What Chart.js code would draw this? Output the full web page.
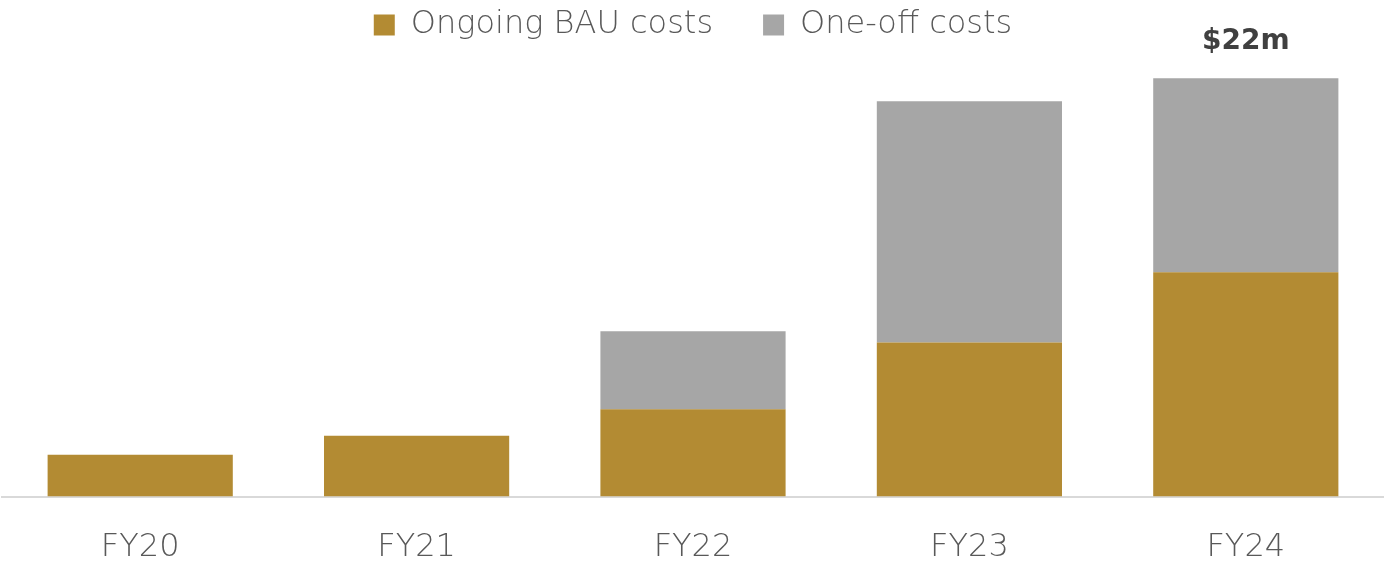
<!DOCTYPE html>
<html>
<head>
<meta charset="utf-8">
<script src="https://cdn.jsdelivr.net/npm/chart.js@4/dist/chart.umd.min.js"></script>
<style>
  html, body { margin: 0; padding: 0; background: #fff; }
  #wrap { width: 1384px; height: 564px; }
</style>
</head>
<body>
<div id="wrap"><canvas id="costChart"></canvas></div>
<script>
// Chart data ($m)
const years = ['FY20', 'FY21', 'FY22', 'FY23', 'FY24'];
const ongoingBau = [2.2, 3.2, 4.6, 8.1, 11.8];
const oneOff = [0, 0, 4.1, 12.7, 10.2];
const topLabels = ['', '', '', '', '$22m'];

const GOLD = '#b38b33';
const GREY = '#a6a6a6';
const TEXT = '#595959';
const FONT = '"DejaVu Sans", sans-serif';

// Draw the total label above a stacked column
const totalLabelPlugin = {
  id: 'totalLabel',
  afterDatasetsDraw(chart) {
    const ctx = chart.ctx;
    const xScale = chart.scales.x;
    const yScale = chart.scales.y;
    ctx.save();
    ctx.font = 'bold 28px ' + FONT;
    ctx.fillStyle = '#404040';
    ctx.textAlign = 'center';
    ctx.textBaseline = 'middle';
    topLabels.forEach((lbl, i) => {
      if (!lbl) return;
      const total = ongoingBau[i] + oneOff[i];
      ctx.fillText(lbl, xScale.getPixelForValue(i), yScale.getPixelForValue(total) - 37);
    });
    ctx.restore();
  }
};

const ctx = document.getElementById('costChart').getContext('2d');
const costChart = new Chart(ctx, {
  type: 'bar',
  data: {
    labels: years,
    datasets: [
      { label: 'Ongoing BAU costs', data: ongoingBau, backgroundColor: GOLD },
      { label: 'One-off costs', data: oneOff, backgroundColor: GREY }
    ]
  },
  options: {
    responsive: true,
    maintainAspectRatio: false,
    animation: false,
    layout: { padding: { left: 2, right: 0, top: -41, bottom: -35 } },
    datasets: { bar: { categoryPercentage: 1, barPercentage: 0.67 } },
    plugins: {
      legend: {
        position: 'top',
        labels: {
          boxWidth: 21,
          boxHeight: 21,
          padding: 50,
          color: TEXT,
          font: { family: FONT, size: 32, weight: 200 }
        }
      },
      tooltip: { enabled: false }
    },
    scales: {
      x: {
        stacked: true,
        grid: { display: false, drawTicks: false },
        border: { color: '#d9d9d9', width: 2 },
        ticks: {
          color: TEXT,
          padding: 32,
          font: { family: FONT, size: 32, weight: 200 }
        }
      },
      y: {
        stacked: true,
        display: false,
        min: 0,
        max: 23.44
      }
    }
  },
  plugins: [totalLabelPlugin]
});
</script>
</body>
</html>
